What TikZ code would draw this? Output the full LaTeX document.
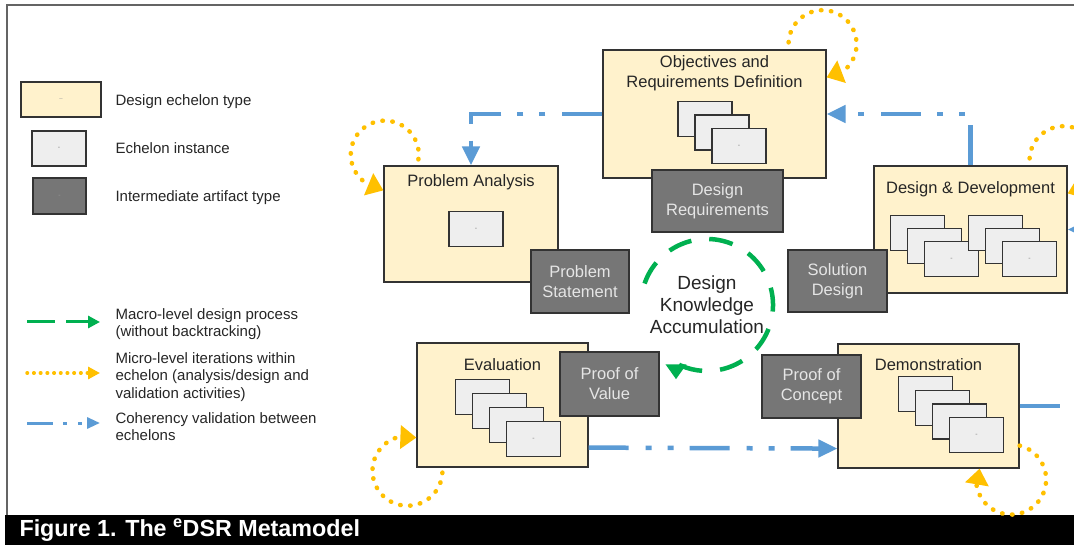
\documentclass[tikz,border=0pt]{standalone}
\usepackage{fontspec}
\setmainfont{Liberation Sans}
\usetikzlibrary{arrows.meta}
\definecolor{echelonfill}{RGB}{255,242,204}
\definecolor{instancefill}{RGB}{238,238,238}
\definecolor{artifactfill}{RGB}{118,118,118}
\definecolor{macrogreen}{RGB}{0,176,80}
\definecolor{microyellow}{RGB}{255,192,0}
\definecolor{coherencyblue}{RGB}{91,155,213}
\definecolor{framegray}{RGB}{100,100,100}

\begin{document}
\begin{tikzpicture}[x=1pt, y=-1pt,
  echelon/.style={draw=black!80, fill=echelonfill, line width=1.2pt, inner sep=0pt},
  instance/.style={draw=black!80, fill=instancefill, line width=1.2pt, minimum width=54pt, minimum height=35pt, inner sep=0pt, text=black!50, font=\fontsize{7}{8}\selectfont},
  artifact/.style={draw=black!80, fill=artifactfill, line width=1.2pt, inner sep=0pt, align=center, text=black!10, font=\fontsize{16.5}{20}\selectfont},
  titletext/.style={align=center, text=black!85, font=\fontsize{16.5}{20}\selectfont},
  legendtext/.style={anchor=west, align=left, text=black!85, font=\fontsize{15}{17.5}\selectfont},
  macro/.style={draw=macrogreen, line width=4.5pt, dash pattern=on 24pt off 18pt, -{Triangle[length=15pt,width=20pt]}},
  micro/.style={draw=microyellow, line width=4.5pt, line cap=round, dash pattern=on 0.5pt off 9.5pt, -{Triangle[length=16pt,width=23pt]}},
  coherency/.style={draw=coherencyblue, line width=4.5pt, dash pattern=on 40pt off 17pt on 6pt off 16pt on 6pt off 16pt, -{Triangle[length=19pt,width=17pt]}},
]
\useasboundingbox (0,0) rectangle (1074,545);
\clip (0,0) rectangle (1074,545);
\fill[white] (0,0) rectangle (1074,545);

% Frame and caption bar
\draw[framegray, line width=1.5pt] (7,515) -- (7,5) -- (1074,5);
\fill[black] (5,515) rectangle (1074,545);
\node[anchor=west, text=white, font=\bfseries\fontsize{23.3}{25}\selectfont] (caption) at (16,530) {Figure 1. The \textsuperscript{e}DSR Metamodel};

% Legend
\node[echelon, minimum width=80pt, minimum height=35pt, text=black!40, font=\fontsize{6}{6}\selectfont] (legech) at (61,99.5) {--};
\node[legendtext] at (112,102) {Design echelon type};
\node[instance] (leginst) at (59,148.5) {-};
\node[legendtext] at (112,148) {Echelon instance};
\node[artifact, minimum width=53pt, minimum height=36pt, text=black!40, font=\fontsize{7}{8}\selectfont] (legart) at (59.5,196) {-};
\node[legendtext] at (112,198) {Intermediate artifact type};

\coordinate (macroA) at (27,322);
\coordinate (macroB) at (100,322);
\coordinate (microA) at (27,373);
\coordinate (microB) at (100,373);
\coordinate (cohA) at (27,423);
\coordinate (cohB) at (100,423);
\draw[macro, line width=3pt, dash pattern=on 28pt off 11pt, -{Triangle[length=12pt,width=12pt]}] (macroA) -- (macroB);
\draw[micro, line width=3.5pt, dash pattern=on 0.5pt off 6.2pt, -{Triangle[length=12pt,width=12pt]}] (microA) -- (microB);
\draw[coherency, line width=3pt, dash pattern=on 26pt off 10pt on 4pt off 11pt on 4pt off 10pt, -{Triangle[length=13pt,width=11pt]}] (cohA) -- (cohB);
\node[legendtext] at (112,324) {Macro-level design process\\(without backtracking)};
\node[legendtext] at (112,377) {Micro-level iterations within\\echelon (analysis/design and\\validation activities)};
\node[legendtext] at (112,426.5) {Coherency validation between\\echelons};

% Design echelons
\node[echelon, minimum width=223pt, minimum height=128pt] (obj) at (714.5,114) {};
\node[echelon, minimum width=174pt, minimum height=116pt] (pa) at (471,224) {};
\node[echelon, minimum width=193pt, minimum height=127pt] (dd) at (970.5,229.5) {};
\node[echelon, minimum width=171pt, minimum height=124pt] (eval) at (502.5,405) {};
\node[echelon, minimum width=181pt, minimum height=124pt] (demo) at (928.5,406) {};

\node[titletext] at (714.5,73) {Objectives and\\Requirements Definition};
\node[titletext] at (471,182) {Problem Analysis};
\node[titletext] at (970.5,189) {Design \& Development};
\node[titletext] at (502.5,365) {Evaluation};
\node[titletext] at (928.5,365) {Demonstration};

% Echelon instances
\node[instance] (pa-0) at (476,229) {-};
\foreach \i in {0,1,2}
  \node[instance] (obj-\i) at (705+17*\i,119+13.5*\i) {\ifnum\i=2 -\fi};
\foreach \s in {0,78}
  \foreach \i in {0,1,2}
    \node[instance] (dd-\s-\i) at (917.5+\s+17*\i,233+13*\i) {\ifnum\i=2 -\fi};
\foreach \i in {0,...,3}
  \node[instance] (eval-\i) at (482.5+17*\i,397+14*\i) {\ifnum\i=3 -\fi};
\foreach \i in {0,...,3}
  \node[instance] (demo-\i) at (925.5+17*\i,394+13.7*\i) {\ifnum\i=3 -\fi};

% Intermediate artifacts
\node[artifact, minimum width=131pt, minimum height=62pt] (desreq) at (717.5,201) {Design\\Requirements};
\node[artifact, minimum width=98pt, minimum height=63pt] (probst) at (580,281.5) {Problem\\Statement};
\node[artifact, minimum width=99pt, minimum height=62pt] (soldes) at (837.5,281) {Solution\\Design};
\node[artifact, minimum width=99pt, minimum height=64pt] (pov) at (609.5,384) {Proof of\\Value};
\node[artifact, minimum width=99pt, minimum height=63pt] (poc) at (811.5,386.5) {Proof of\\Concept};

% Knowledge accumulation cycle
\node[align=center, text=black!85, font=\fontsize{19}{22}\selectfont] (dka) at (707,305) {Design\\Knowledge\\Accumulation};
\draw[macro] (dka.center) ++(199:66) arc[start angle=199, end angle=478, radius=66] -- ++(0,16);

% Coherency validation
\draw[coherency] (obj.west) -| (pa.north);
\draw[coherency] (dd.north) |- (obj.east);
\draw[coherency] ([yshift=20pt]eval.south east) -- ([yshift=20pt]demo.south west);
\draw[coherency] (demo.east) -- ++(80,0) |- (dd.east);

% Micro-level loops
\draw[micro] ([xshift=35pt,yshift=6pt]pa.north west) arc[start angle=8, end angle=-238, radius=34]
  -- ([yshift=-25pt]pa.north west);
\draw[micro] ([xshift=-38pt,yshift=7pt]obj.north east) arc[start angle=183, end angle=412, radius=34]
  -- ([yshift=-28pt]obj.north east);
\draw[micro] ([xshift=-38pt,yshift=7pt]dd.north east) arc[start angle=183, end angle=412, radius=34]
  -- ([yshift=-28pt]dd.north east);
\draw[micro] ([xshift=26pt,yshift=-5pt]eval.south west) arc[start angle=3, end angle=255, radius=35]
  -- ([yshift=30pt]eval.south west);
\draw[micro] ([yshift=23pt]demo.south east) arc[start angle=284, end angle=530, radius=35]
  -- ([xshift=-40pt]demo.south east);
\end{tikzpicture}
\end{document}
